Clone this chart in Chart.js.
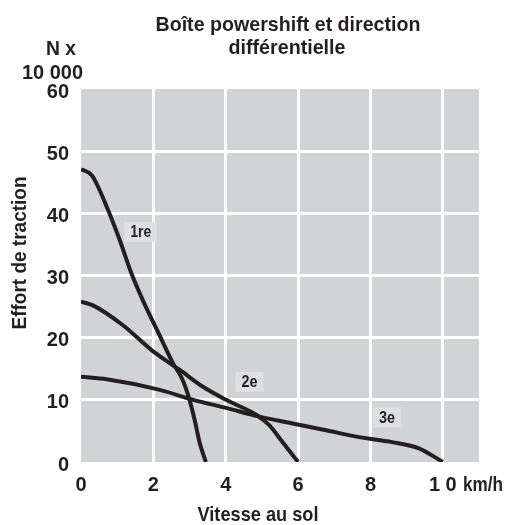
<!DOCTYPE html>
<html>
<head>
<meta charset="utf-8">
<script src="https://cdn.jsdelivr.net/npm/chart.js@4.4.1/dist/chart.umd.min.js"></script>
<style>
  html, body { margin: 0; padding: 0; background: #fff; }
  #wrap { width: 507px; height: 525px; }
</style>
</head>
<body>
<div id="wrap"><canvas id="chart" width="507" height="525"></canvas></div>
<script>
// --- DATA ---
const xTicks = [0, 2, 4, 6, 8, 10];
const xTickLabels = ['0', '2', '4', '6', '8', '1 0'];
const yTicks = [0, 10, 20, 30, 40, 50, 60];

// 1re vitesse
const x1re = [0, 0.3, 0.75, 1.07, 1.39, 1.71, 2.12, 2.54, 2.81, 3.0, 3.14, 3.28, 3.45];
const y1re = [47.1, 46.1, 40.5, 35.7, 30.4, 26.0, 21.0, 15.9, 13.2, 10.0, 6.8, 3.1, 0];
// 2e vitesse
const x2e = [0, 0.33, 1.16, 1.95, 2.73, 3.37, 4.01, 4.84, 5.21, 5.53, 6.0];
const y2e = [25.8, 25.2, 22.0, 18.0, 14.8, 12.1, 10.0, 7.6, 5.9, 3.5, 0];
// 3e vitesse
const x3e = [0, 0.71, 2.18, 3.1, 4.01, 4.93, 5.85, 6.77, 7.69, 8.6, 9.34, 10.0];
const y3e = [13.7, 13.3, 11.6, 10.0, 8.7, 7.3, 6.2, 5.1, 4.0, 3.2, 2.2, 0];

// étiquettes des courbes [texte, x, y]
const curveLabels = [['1re', 1.65, 37.0], ['2e', 4.66, 12.9], ['3e', 8.46, 7.2]];

const FONT = "'Liberation Sans', Arial, sans-serif";
const INK = '#231f20';

function pts(xs, ys) { return xs.map((x, i) => ({ x: x, y: ys[i] })); }

function curve(xs, ys) {
    return {
        data: pts(xs, ys),
        showLine: true,
        borderColor: INK,
        borderWidth: 4,
        pointRadius: 0,
        cubicInterpolationMode: 'monotone',
        fill: false
    };
}

// texte resserré (police étroite simulée via maxWidth)
function narrow(ctx, t, x, y, w) {
    ctx.fillText(t, x, y, Math.min(w, ctx.measureText(t).width));
}

// fond gris + textes
const decor = {
    id: 'decor',
    beforeDraw(chart) {
        const { ctx, chartArea: a } = chart;
        ctx.save();
        ctx.fillStyle = '#d1d3d4';
        ctx.fillRect(a.left, a.top, a.right - a.left, a.bottom - a.top);
        ctx.restore();
    },
    afterDraw(chart) {
        const { ctx, scales } = chart;
        ctx.save();
        ctx.fillStyle = INK;
        ctx.textBaseline = 'middle';
        ctx.font = 'bold 21px ' + FONT;

        // titre
        ctx.textAlign = 'center';
        narrow(ctx, 'Boîte powershift et direction', 288, 25, 265);
        narrow(ctx, 'différentielle', 287, 48, 117);

        // unité Y
        ctx.textAlign = 'right';
        narrow(ctx, 'N x', 76, 49, 30);
        narrow(ctx, '10 000', 83, 73, 61);

        // unité X
        ctx.textAlign = 'left';
        narrow(ctx, 'km/h', 463, 485, 40);

        // titre axe X
        ctx.textAlign = 'center';
        narrow(ctx, 'Vitesse au sol', 258, 515, 121);

        // titre axe Y
        ctx.save();
        ctx.translate(20, 253);
        ctx.rotate(-Math.PI / 2);
        narrow(ctx, 'Effort de traction', 0, 0, 153);
        ctx.restore();

        // étiquettes des courbes
        ctx.font = 'bold 16px ' + FONT;
        curveLabels.forEach(([t, x, y]) => {
            const px = scales.x.getPixelForValue(x);
            const py = scales.y.getPixelForValue(y);
            const tw = Math.min(ctx.measureText(t).width, t.length > 2 ? 21 : 16);
            const w = tw + 12;
            ctx.fillStyle = '#dfe0e1';
            ctx.fillRect(px - w / 2, py - 10, w, 20);
            ctx.fillStyle = INK;
            narrow(ctx, t, px, py + 1, tw);
        });
        ctx.restore();
    }
};

new Chart(document.getElementById('chart'), {
    type: 'scatter',
    data: {
        datasets: [curve(x1re, y1re), curve(x2e, y2e), curve(x3e, y3e)]
    },
    options: {
        responsive: false,
        animation: false,
        layout: { padding: { left: 0, top: 89, right: 28, bottom: 0 } },
        plugins: { legend: { display: false }, tooltip: { enabled: false } },
        scales: {
            x: {
                type: 'linear',
                min: 0,
                max: 11,
                afterFit: s => { s.height = 63; },
                afterBuildTicks: s => { s.ticks = xTicks.map(v => ({ value: v })); },
                border: { display: false },
                grid: {
                    drawTicks: false,
                    lineWidth: 3,
                    color: c => (c.tick && c.tick.value === 0) ? 'rgba(0,0,0,0)' : '#ffffff'
                },
                ticks: {
                    padding: 11,
                    color: INK,
                    font: { family: FONT, size: 20, weight: 'bold' },
                    callback: (v) => xTickLabels[xTicks.indexOf(v)]
                }
            },
            y: {
                type: 'linear',
                min: 0,
                max: 60,
                afterFit: s => { s.width = 81; },
                afterBuildTicks: s => { s.ticks = yTicks.map(v => ({ value: v })); },
                border: { display: false },
                grid: {
                    drawTicks: false,
                    lineWidth: 3,
                    color: c => (c.tick && (c.tick.value === 0 || c.tick.value === 60)) ? 'rgba(0,0,0,0)' : '#ffffff'
                },
                ticks: {
                    padding: 12,
                    labelOffset: 3,
                    color: INK,
                    font: { family: FONT, size: 20, weight: 'bold' }
                }
            }
        }
    },
    plugins: [decor]
});
</script>
</body>
</html>
